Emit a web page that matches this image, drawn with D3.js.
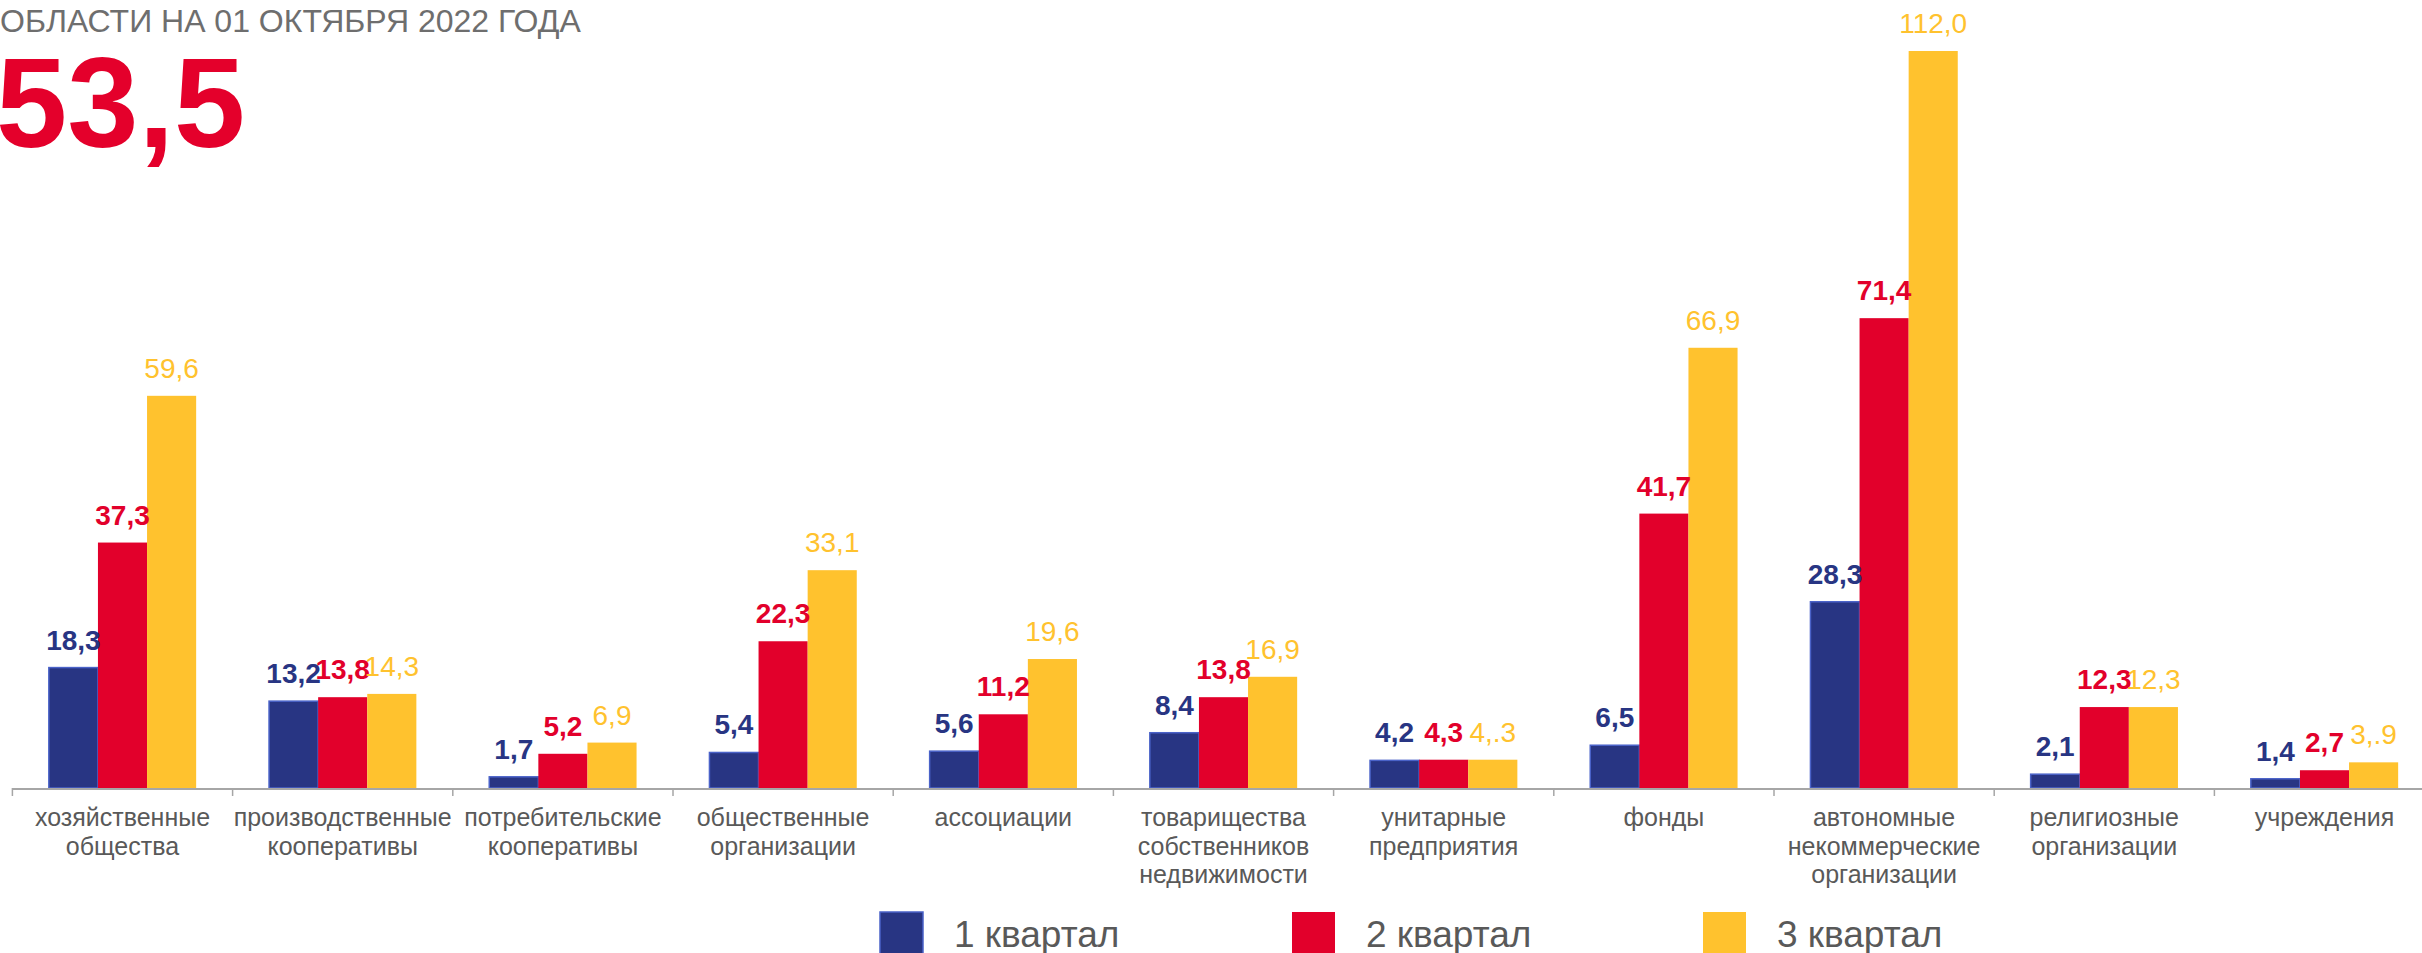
<!DOCTYPE html>
<html>
<head>
<meta charset="utf-8">
<script src="https://cdn.jsdelivr.net/npm/d3@7"></script>
<style>
  html, body { margin: 0; padding: 0; background: #fff; overflow: hidden; }
  svg { display: block; font-family: Arial, "Liberation Sans", sans-serif; }
</style>
</head>
<body>
<svg id="canvas"></svg>
<script>
const categories = [
    ["хозяйственные", "общества"],
    ["производственные", "кооперативы"],
    ["потребительские", "кооперативы"],
    ["общественные", "организации"],
    ["ассоциации"],
    ["товарищества", "собственников", "недвижимости"],
    ["унитарные", "предприятия"],
    ["фонды"],
    ["автономные", "некоммерческие", "организации"],
    ["религиозные", "организации"],
    ["учреждения"]
];
const seriesNames = ["1 квартал", "2 квартал", "3 квартал"];
const q1 = [18.3, 13.2, 1.7, 5.4, 5.6, 8.4, 4.2, 6.5, 28.3, 2.1, 1.4];
const q2 = [37.3, 13.8, 5.2, 22.3, 11.2, 13.8, 4.3, 41.7, 71.4, 12.3, 2.7];
const q3 = [59.6, 14.3, 6.9, 33.1, 19.6, 16.9, 4.3, 66.9, 112.0, 12.3, 3.9];
// the source shows a couple of labels with a stray dot
const q3LabelFix = { 6: "4,.3", 10: "3,.9" };
const titleText = "ОБЛАСТИ НА 01 ОКТЯБРЯ 2022 ГОДА";
const bigNumber = "53,5";

const colors = ["#283583", "#e2002b", "#ffc22e"];
const labelColors = ["#283583", "#e2002b", "#ffc22e"];

const width = 2422;
const height = 953;

const svg = d3.select("#canvas").attr("width", width).attr("height", height)
    .attr("viewBox", `0 0 ${width} ${height}`);

const fmt = v => d3.format(".1f")(v).replace(".", ",");

const rows = categories.map((c, i) => ({
    idx: i,
    values: [q1[i], q2[i], q3[i]]
}));

const axisY = 788;
const x0 = d3.scaleBand().domain(d3.range(categories.length)).range([12.4, 12.4 + 220.2 * 11]).padding(0);
const bw = x0.bandwidth();
const x1 = d3.scaleBand().domain([0, 1, 2]).range([bw * 0.1655, bw * 0.8345]).padding(0);
const y = d3.scaleLinear().domain([0, 112]).range([axisY, 51]);

// header
svg.append("text")
    .attr("x", 0).attr("y", 32)
    .attr("fill", "#6e6e6e")
    .style("font-size", "32px")
    .text(titleText);

svg.append("text")
    .attr("x", -4).attr("y", 147)
    .attr("fill", "#e4002b")
    .style("font-size", "128px")
    .style("font-weight", "bold")
    .text(bigNumber);

// bars
const groups = svg.append("g").classed("bars", true)
    .selectAll("g")
    .data(rows)
    .join("g")
    .attr("transform", d => `translate(${x0(d.idx)},0)`);

groups.selectAll("rect")
    .data(d => d.values.map((v, s) => ({ v, s, idx: d.idx })))
    .join("rect")
    .attr("x", d => x1(d.s))
    .attr("y", d => y(d.v))
    .attr("width", x1.bandwidth())
    .attr("height", d => axisY - y(d.v))
    .attr("fill", d => colors[d.s])
    .attr("stroke", d => d.s === 0 ? "#4a62c8" : "none")
    .attr("stroke-width", 1.5);

groups.selectAll("text")
    .data(d => d.values.map((v, s) => ({ v, s, idx: d.idx })))
    .join("text")
    .attr("x", d => x1(d.s) + x1.bandwidth() / 2)
    .attr("y", d => y(d.v) - 18)
    .attr("fill", d => labelColors[d.s])
    .style("font-size", "28px")
    .style("font-weight", d => d.s === 2 ? "normal" : "bold")
    .style("text-anchor", "middle")
    .text(d => (d.s === 2 && q3LabelFix[d.idx]) ? q3LabelFix[d.idx] : fmt(d.v));

// x axis
const xAxis = svg.append("g").classed("xAxis", true);
xAxis.append("line")
    .attr("x1", 12.4).attr("x2", width)
    .attr("y1", axisY + 1).attr("y2", axisY + 1)
    .attr("stroke", "#a6a6a6").attr("stroke-width", 2);
xAxis.selectAll("line.tick")
    .data(d3.range(categories.length + 1))
    .join("line")
    .classed("tick", true)
    .attr("x1", i => 12.4 + i * bw).attr("x2", i => 12.4 + i * bw)
    .attr("y1", axisY).attr("y2", axisY + 8)
    .attr("stroke", "#a6a6a6").attr("stroke-width", 1.5);

const catLabels = xAxis.selectAll("text")
    .data(categories)
    .join("text")
    .attr("x", (d, i) => x0(i) + bw / 2)
    .attr("y", 826)
    .attr("fill", "#595959")
    .style("font-size", "25px")
    .style("text-anchor", "middle");
catLabels.selectAll("tspan")
    .data(d => d)
    .join("tspan")
    .attr("x", function () { return this.parentNode.getAttribute("x"); })
    .attr("dy", (d, i) => i === 0 ? 0 : 28.5)
    .text(d => d);

// legend
const legendX = [880, 1292, 1703];
const legend = svg.append("g").classed("legend", true)
    .selectAll("g")
    .data(seriesNames)
    .join("g")
    .attr("transform", (d, i) => `translate(${legendX[i]}, 912)`);
legend.append("rect")
    .attr("width", 43).attr("height", 50)
    .attr("fill", (d, i) => colors[i])
    .attr("stroke", (d, i) => i === 0 ? "#4a62c8" : "none")
    .attr("stroke-width", 1.5);
legend.append("text")
    .attr("x", 74).attr("y", 35)
    .attr("fill", "#595959")
    .style("font-size", "37px")
    .text(d => d);
</script>
</body>
</html>
